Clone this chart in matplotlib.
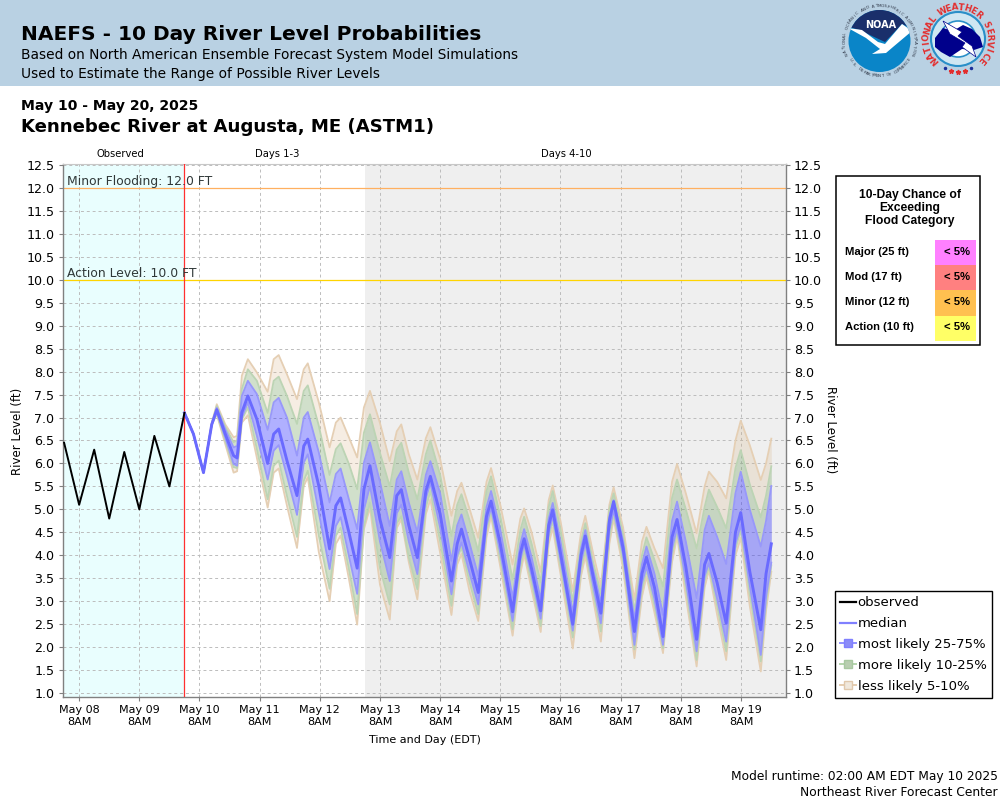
import numpy as np
import matplotlib
matplotlib.use('Agg')
import matplotlib.pyplot as plt
from matplotlib.lines import Line2D
from matplotlib.patches import Circle, Polygon, Rectangle

# hours since May 08 8AM
obs_hours = [-6, 0, 6, 12, 18, 24, 30, 36, 42]
observed = [6.45, 5.1, 6.3, 4.8, 6.25, 5.0, 6.6, 5.5, 7.1]

fc_hours = [42, 45.6, 49.6, 52.9, 54.9, 58.3, 61.6, 63, 64.9, 67.3, 70.9, 75.2, 77.6, 79.6, 82.9, 86.9, 89.6, 91.2, 95.6, 99.9,
            102.4, 104.3, 107.6, 110.9, 113.6, 116, 120, 123.9, 126.7, 128.5, 131.5, 134.9, 138.3, 140.1, 144, 148.5, 150.8, 152.5, 155.8, 159.2,
            162.5, 164.3, 168, 172.9, 176, 177.5, 180.5, 184.1, 187.3, 188.9, 192, 196.9, 200.2, 201.9, 205, 208.1, 211.5, 213.2, 217, 221.5,
            224.5, 226.3, 229.5, 232.9, 236.5, 238.5, 242, 246.3, 249.5, 251.2, 254.5, 258.1, 261.8, 263.9, 267.5, 271.9, 274, 276.1]
p95 = [7.1, 6.64, 5.8, 6.88, 7.29, 6.85, 6.57, 6.6, 7.91, 8.27, 7.98, 7.56, 8.27, 8.36, 7.94, 7.4, 8.05, 8.18, 7.33, 6.35,
       6.89, 7.0, 6.57, 6.13, 7.22, 7.58, 6.88, 6.05, 6.7, 6.85, 6.2, 5.65, 6.55, 6.79, 6.1, 4.86, 5.4, 5.58, 5.0, 4.38,
       5.6, 5.9, 5.1, 3.8, 4.8, 5.02, 4.5, 3.64, 5.2, 5.52, 4.75, 3.22, 4.5, 4.86, 4.05, 3.33, 5.1, 5.48, 4.6, 3.03,
       4.3, 4.62, 4.15, 3.72, 5.6, 5.99, 5.35, 4.48, 5.5, 5.82, 5.6, 5.24, 6.5, 6.93, 6.4, 5.64, 6.0, 6.54]
p90 = [7.1, 6.64, 5.8, 6.86, 7.25, 6.8, 6.46, 6.5, 7.62, 8.05, 7.8, 7.1, 7.8, 7.89, 7.47, 6.86, 7.58, 7.7, 6.82, 5.75,
       6.31, 6.44, 5.99, 5.44, 6.67, 7.07, 6.23, 5.5, 6.3, 6.45, 5.8, 5.22, 6.2, 6.5, 5.75, 4.42, 5.1, 5.33, 4.75, 4.09,
       5.4, 5.72, 4.85, 3.47, 4.55, 4.84, 4.25, 3.41, 5.05, 5.4, 4.55, 3.0, 4.3, 4.7, 3.85, 3.17, 5.0, 5.35, 4.45, 2.78,
       4.0, 4.39, 3.9, 3.32, 5.25, 5.65, 5.0, 4.15, 5.05, 5.43, 5.05, 4.59, 5.9, 6.29, 5.55, 4.83, 5.3, 5.94]
p75 = [7.1, 6.64, 5.8, 6.85, 7.21, 6.74, 6.35, 6.38, 7.47, 7.8, 7.51, 6.73, 7.33, 7.43, 7.0, 6.17, 7.0, 7.12, 6.24, 5.15,
       5.77, 5.89, 5.22, 4.57, 6.02, 6.46, 5.6, 4.64, 5.65, 5.83, 5.15, 4.5, 5.75, 6.05, 5.35, 3.88, 4.65, 4.89, 4.25, 3.55,
       5.05, 5.4, 4.55, 3.08, 4.25, 4.57, 3.95, 3.04, 4.8, 5.14, 4.3, 2.75, 4.15, 4.55, 3.7, 2.96, 4.85, 5.2, 4.3, 2.6,
       3.8, 4.19, 3.6, 2.7, 4.75, 5.17, 4.3, 3.07, 4.55, 4.86, 4.4, 3.81, 5.35, 5.82, 5.0, 4.19, 4.75, 5.51]
median = [7.1, 6.64, 5.8, 6.85, 7.17, 6.64, 6.17, 6.12, 7.11, 7.47, 6.96, 6.0, 6.64, 6.75, 6.06, 5.3, 6.38, 6.53, 5.51, 4.14,
          5.08, 5.25, 4.5, 3.72, 5.44, 5.95, 4.78, 3.95, 5.3, 5.43, 4.65, 3.95, 5.4, 5.72, 4.9, 3.44, 4.25, 4.57, 3.9, 3.19,
          4.85, 5.18, 4.25, 2.77, 4.05, 4.36, 3.7, 2.79, 4.65, 4.99, 4.05, 2.5, 4.0, 4.42, 3.55, 2.74, 4.75, 5.17, 4.15, 2.34,
          3.6, 3.96, 3.3, 2.23, 4.4, 4.78, 3.75, 2.17, 3.8, 4.04, 3.4, 2.52, 4.5, 4.93, 3.65, 2.38, 3.6, 4.25]
p25 = [7.1, 6.64, 5.8, 6.85, 7.12, 6.56, 5.99, 5.95, 7.0, 7.33, 6.6, 5.65, 6.28, 6.4, 5.73, 4.88, 6.02, 6.2, 4.93, 3.7,
       4.64, 4.83, 3.99, 3.16, 5.0, 5.51, 4.3, 3.44, 4.92, 5.1, 4.3, 3.59, 5.25, 5.58, 4.6, 3.15, 4.0, 4.28, 3.6, 2.93,
       4.65, 5.04, 4.05, 2.57, 3.9, 4.24, 3.55, 2.62, 4.5, 4.85, 3.9, 2.36, 3.85, 4.26, 3.35, 2.52, 4.55, 4.98, 4.0, 2.05,
       3.4, 3.75, 3.05, 2.05, 4.15, 4.59, 3.45, 1.91, 3.55, 3.83, 3.05, 2.12, 4.25, 4.66, 3.35, 1.83, 3.1, 3.84]
p10 = [7.1, 6.64, 5.8, 6.85, 7.09, 6.49, 5.92, 5.9, 6.96, 7.22, 6.31, 5.22, 5.95, 6.06, 5.29, 4.4, 5.62, 5.84, 4.43, 3.27,
       4.43, 4.6, 3.7, 2.72, 4.64, 5.15, 3.72, 2.93, 4.7, 4.85, 3.95, 3.26, 5.05, 5.4, 4.3, 2.9, 3.95, 4.17, 3.4, 2.72,
       4.55, 4.94, 3.9, 2.39, 3.75, 4.13, 3.4, 2.46, 4.4, 4.75, 3.75, 2.21, 3.7, 4.12, 3.2, 2.34, 4.4, 4.9, 3.85, 1.95,
       3.25, 3.68, 2.9, 1.98, 4.0, 4.52, 3.3, 1.72, 3.45, 3.75, 2.9, 1.91, 4.15, 4.55, 3.15, 1.69, 2.95, 3.78]
p05 = [7.1, 6.64, 5.8, 6.85, 7.07, 6.42, 5.8, 5.83, 6.89, 7.05, 6.12, 5.04, 5.8, 5.89, 5.08, 4.16, 5.51, 5.7, 4.07, 3.0,
       4.25, 4.43, 3.49, 2.49, 4.57, 5.04, 3.36, 2.6, 4.6, 4.78, 3.85, 3.04, 4.9, 5.22, 4.05, 2.7, 3.8, 4.03, 3.2, 2.57,
       4.4, 4.85, 3.75, 2.25, 3.6, 4.02, 3.25, 2.33, 4.25, 4.6, 3.6, 1.97, 3.55, 3.98, 3.05, 2.12, 4.25, 4.8, 3.7, 1.76,
       3.1, 3.54, 2.75, 1.87, 3.85, 4.41, 3.1, 1.58, 3.3, 3.68, 2.7, 1.72, 4.0, 4.38, 2.9, 1.47, 2.8, 3.64]

day_ticks = [0, 24, 48, 72, 96, 120, 144, 168, 192, 216, 240, 264]
day_labels = ['May 08\n8AM', 'May 09\n8AM', 'May 10\n8AM', 'May 11\n8AM', 'May 12\n8AM', 'May 13\n8AM',
              'May 14\n8AM', 'May 15\n8AM', 'May 16\n8AM', 'May 17\n8AM', 'May 18\n8AM', 'May 19\n8AM']
level_ticks = [1.0, 1.5, 2.0, 2.5, 3.0, 3.5, 4.0, 4.5, 5.0, 5.5, 6.0, 6.5, 7.0, 7.5, 8.0, 8.5, 9.0, 9.5, 10.0, 10.5, 11.0, 11.5, 12.0, 12.5]
minor_level = 12.0
action_level = 10.0
forecast_start = 42
days3_end = 114
categories = ['Major (25 ft)', 'Mod (17 ft)', 'Minor (12 ft)', 'Action (10 ft)']
chances = ['< 5%', '< 5%', '< 5%', '< 5%']
cat_colors = ['#ff80ff', '#ff8080', '#ffc050', '#ffff66']

plt.rcParams['font.family'] = 'DejaVu Sans'
GRID = '#bcbcbc'
TAN = '#d8b080'
GREEN = '#70a060'
BLUE = '#3030ff'

fig = plt.figure(figsize=(10, 8), dpi=100)


def hbox(x0, y0, x1, y1):
    return [x0 / 1000, 1 - y1 / 800, (x1 - x0) / 1000, (y1 - y0) / 800]


ax = fig.add_axes(hbox(62.6, 164, 785.6, 697))
ax.set_xlim(-6.6, 281.8)
ax.set_ylim(0.915, 12.52)

ax.axvspan(-6.6, forecast_start, color='#e9fefe', lw=0, zorder=0)
ax.axvspan(days3_end, 281.8, color='#efefef', lw=0, zorder=0)
ax.grid(True, color=GRID, ls=(0, (3, 3)), lw=0.7, zorder=1)
ax.set_axisbelow(True)
ax.set_xticks(day_ticks)
ax.set_xticklabels(day_labels, fontsize=8, linespacing=1.15)
ax.set_yticks(level_ticks)
ax.set_yticklabels(['%.1f' % v for v in level_ticks], fontsize=9.1)
ax.tick_params(axis='both', color='#808080', length=3, width=0.8, pad=3)
ax.tick_params(axis='y', left=True, right=True, labelleft=True, labelright=True)
for s in ax.spines.values():
    s.set_color('#808080')
    s.set_linewidth(1.0)
ax.spines['top'].set_color('#c8c8c8')
ax.spines['top'].set_linewidth(0.8)

ax.axhline(minor_level, color='#ffb060', lw=0.9, zorder=2)
ax.axhline(action_level, color='#ffd400', lw=0.9, zorder=2)
ax.axvline(forecast_start, color='#ff3030', lw=0.9, zorder=5)

ax.fill_between(fc_hours, p90, p95, color=TAN, alpha=0.22, lw=0, zorder=3)
ax.fill_between(fc_hours, p05, p10, color=TAN, alpha=0.22, lw=0, zorder=3)
ax.fill_between(fc_hours, p75, p90, color=GREEN, alpha=0.32, lw=0, zorder=3)
ax.fill_between(fc_hours, p10, p25, color=GREEN, alpha=0.32, lw=0, zorder=3)
ax.fill_between(fc_hours, p25, p75, color=BLUE, alpha=0.38, lw=0, zorder=3)
for q, c in [(p95, '#e5cfb4'), (p05, '#e5cfb4'), (p90, '#bcd4b4'), (p10, '#bcd4b4'), (p75, '#9898fa'), (p25, '#9898fa')]:
    ax.plot(fc_hours, q, color=c, lw=1.3, zorder=4)
ax.plot(fc_hours, median, color='#6a6aff', lw=2.1, zorder=6)
ax.plot(obs_hours, observed, color='black', lw=1.4, zorder=6)

# everything else is placed in pixel coordinates on a full-figure overlay
ov = fig.add_axes([0, 0, 1, 1], facecolor='none')
ov.set_xlim(0, 1000)
ov.set_ylim(800, 0)
ov.axis('off')
ov.add_patch(Rectangle((0, 0), 1000, 86, color='#b9d1e3', lw=0))

ov.text(21, 40, 'NAEFS - 10 Day River Level Probabilities', fontsize=14.5, fontweight='bold', va='baseline')
ov.text(21, 59, 'Based on North American Ensemble Forecast System Model Simulations', fontsize=9.88, va='baseline')
ov.text(21, 78, 'Used to Estimate the Range of Possible River Levels', fontsize=9.88, va='baseline')
ov.text(21, 110, 'May 10 - May 20, 2025', fontsize=10.1, fontweight='bold', va='baseline')
ov.text(21, 132, 'Kennebec River at Augusta, ME (ASTM1)', fontsize=13.03, fontweight='bold', va='baseline')

ov.text(120, 157, 'Observed', fontsize=7.2, ha='center')
ov.text(277, 157, 'Days 1-3', fontsize=7.2, ha='center')
ov.text(566, 157, 'Days 4-10', fontsize=7.2, ha='center')
ov.text(67, 185, 'Minor Flooding: 12.0 FT', fontsize=8.9, color='#303838', zorder=7)
ov.text(67, 277, 'Action Level: 10.0 FT', fontsize=8.9, color='#303838', zorder=7)
ov.text(18, 431, 'River Level (ft)', fontsize=8.5, rotation=90, ha='center', va='center')
ov.text(831, 430, 'River Level (ft)', fontsize=8.5, rotation=-90, ha='center', va='center')
ov.text(425, 743, 'Time and Day (EDT)', fontsize=8, ha='center')
ov.text(998, 780, 'Model runtime: 02:00 AM EDT May 10 2025', fontsize=8.8, ha='right')
ov.text(998, 796, 'Northeast River Forecast Center', fontsize=8.8, ha='right')

# flood category panel
ov.add_patch(Rectangle((836, 176), 144, 169, fc='white', ec='black', lw=1.1))
for y, line in zip([198, 211, 224], ['10-Day Chance of', 'Exceeding', 'Flood Category']):
    ov.text(910, y, line, fontsize=8.7, fontweight='bold', family='Liberation Sans', ha='center')
for i in range(len(categories)):
    y0 = 240 + i * 25.2
    ov.add_patch(Rectangle((935, y0), 41, 25.2, color=cat_colors[i], lw=0))
    ov.text(845, y0 + 11.6, categories[i], fontsize=8.1, fontweight='bold', family='Liberation Sans', va='center')
    ov.text(957, y0 + 11.6, chances[i], fontsize=8.1, fontweight='bold', family='Liberation Sans', va='center', ha='center')

handles = [
    Line2D([], [], color='black', lw=1.6),
    Line2D([], [], color='#8080ff', lw=1.6),
    Line2D([], [], color='#9090ff', lw=1.4, marker='s', ms=5.5, mfc='#8c8cf8', mec='#8080ff'),
    Line2D([], [], color='#b4d4ac', lw=1.4, marker='s', ms=5.5, mfc='#b8ceb0', mec='#a8c8a0'),
    Line2D([], [], color='#e5cdb0', lw=1.4, marker='s', ms=5.5, mfc='#f0e8dc', mec='#e0c8ac'),
]
labels = ['observed', 'median', 'most likely 25-75%', 'more likely 10-25%', 'less likely 5-10%']
leg = ov.legend(handles, labels, loc='upper left', bbox_to_anchor=(835 / 1000, 1 - 591 / 800), bbox_transform=fig.transFigure,
                fontsize=9.5, frameon=True, fancybox=False, edgecolor='black', framealpha=1, borderpad=0.4, borderaxespad=0,
                labelspacing=0.6, handlelength=1.2, handletextpad=0.12)
leg.get_frame().set_linewidth(1.0)


def ring_text(text, cx, cy, r, a0, a1, size, color, weight='normal'):
    # letters spaced evenly along an arc, angles clockwise from the top
    for ch, a in zip(text, np.linspace(a0, a1, len(text))):
        t = np.radians(a)
        rot = -a if a1 > a0 else 180 - a
        ov.text(cx + r * np.sin(t), cy - r * np.cos(t), ch, fontsize=size, color=color, fontweight=weight,
                rotation=rot, ha='center', va='center', rotation_mode='anchor')


# NOAA mark
cx, cy = 879.5, 41
disc = Circle((cx, cy), 31, color='#0a85c8', lw=0)
ov.add_patch(disc)
navy = Polygon([(845, 5), (915, 5), (915, 30), (902, 24), (885, 42), (872, 36), (860, 30), (845, 26)], color='#1a2f6b', lw=0)
ov.add_patch(navy)
navy.set_clip_path(disc)
bird = Polygon([(848, 28), (862, 30), (878, 42), (885, 44), (902, 24), (912, 31), (893, 47), (886, 53), (872, 54), (880, 49), (866, 38)], color='white', lw=0)
ov.add_patch(bird)
bird.set_clip_path(disc)
ov.text(cx + 1, 25, 'NOAA', fontsize=7, fontweight='bold', color='white', ha='center', va='center')
ring_text('NATIONAL OCEANIC AND ATMOSPHERIC ADMINISTRATION', cx, cy, 35, -112, 112, 3, '#303848')
ring_text('U.S. DEPARTMENT OF COMMERCE', cx, cy, 35, 238, 122, 3, '#303848')

# NWS mark
cx, cy = 958, 39
ov.add_patch(Circle((cx, cy), 27, fc='#cfe6f2', ec='#2a8fc8', lw=1.5))
ov.add_patch(Circle((cx, cy), 18, fc='white', ec='#2a8fc8', lw=1.2))
cloud = [(935, 38), (943, 28), (953, 31), (963, 25), (972, 29), (980, 37), (983, 47), (974, 50), (962, 49), (950, 57), (941, 52), (935, 47)]
ov.add_patch(Polygon(cloud, color='#00008b', lw=0))
bolt = [(943, 21), (962, 32), (958, 36), (972, 46), (976, 57), (962, 47), (965, 43), (950, 34)]
ov.add_patch(Polygon(bolt, fc='white', ec='#00008b', lw=0.5))
ring_text('NATIONAL WEATHER SERVICE', cx, cy, 31.5, -132, 132, 6.2, '#e32d2d', 'bold')
ov.plot([951, 958, 965], [71, 72, 71], ls='none', marker='*', ms=3.5, color='#e32d2d')
ov.plot([945, 971], [68, 68], ls='none', marker='o', ms=1.5, color='#1a2f9b')

plt.savefig('out.png', dpi=100)
